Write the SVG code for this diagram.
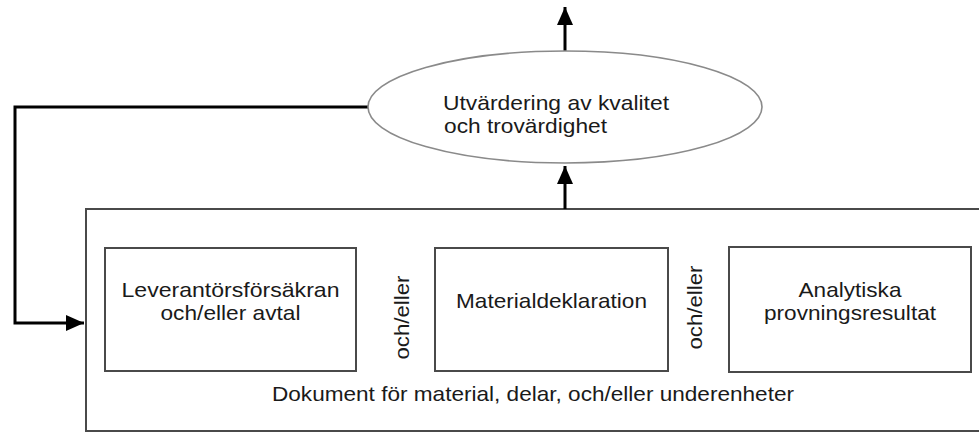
<svg xmlns="http://www.w3.org/2000/svg" width="979" height="436" viewBox="0 0 979 436">
<style>
.box{fill:#fff;stroke:#4a4a4a;stroke-width:2}
.ell{fill:#fff;stroke:#8a8a8a;stroke-width:1.6}
.con{fill:none;stroke:#000;stroke-width:3}
text{font-family:"Liberation Sans",Arial,sans-serif;font-size:21px;fill:#1a1a1a}
.c{text-anchor:middle}
</style>
<defs>
<marker id="ah" markerUnits="userSpaceOnUse" markerWidth="20" markerHeight="18" refX="18" refY="8" orient="auto">
<path d="M0,0 L18,8 L0,16 Z" fill="#000"/>
</marker>
</defs>
<g id="outer">
<rect class="box" x="86" y="209" width="910" height="222"/>
<text class="c" x="533" y="401" textLength="522" lengthAdjust="spacingAndGlyphs">Dokument för material, delar, och/eller underenheter</text>
</g>
<g id="connectors">
<path class="con" d="M368,107 H15 V323 H84" marker-end="url(#ah)"/>
<path class="con" d="M565,209 V166" marker-end="url(#ah)"/>
<path class="con" d="M565,51 V7" marker-end="url(#ah)"/>
</g>
<g id="eval">
<ellipse class="ell" cx="565" cy="107" rx="197" ry="56"/>
<text x="443" y="110" textLength="226" lengthAdjust="spacingAndGlyphs">Utvärdering av kvalitet</text>
<text x="444" y="133" textLength="163" lengthAdjust="spacingAndGlyphs">och trovärdighet</text>
</g>
<g id="leverantor">
<rect class="box" x="105" y="248" width="251" height="123"/>
<text class="c" x="230.5" y="297" textLength="218" lengthAdjust="spacingAndGlyphs">Leverantörsförsäkran</text>
<text class="c" x="230.5" y="320" textLength="140" lengthAdjust="spacingAndGlyphs">och/eller avtal</text>
</g>
<g id="material">
<rect class="box" x="435" y="248" width="233" height="123"/>
<text class="c" x="551.5" y="308" textLength="191" lengthAdjust="spacingAndGlyphs">Materialdeklaration</text>
</g>
<g id="analytiska">
<rect class="box" x="729" y="247" width="242" height="125"/>
<text class="c" x="850" y="297" textLength="103" lengthAdjust="spacingAndGlyphs">Analytiska</text>
<text class="c" x="850" y="320" textLength="172" lengthAdjust="spacingAndGlyphs">provningsresultat</text>
</g>
<g id="or1">
<text class="c" transform="translate(409,317.5) rotate(-90)" textLength="84" lengthAdjust="spacingAndGlyphs">och/eller</text>
</g>
<g id="or2">
<text class="c" transform="translate(702,307.5) rotate(-90)" textLength="84" lengthAdjust="spacingAndGlyphs">och/eller</text>
</g>
</svg>
